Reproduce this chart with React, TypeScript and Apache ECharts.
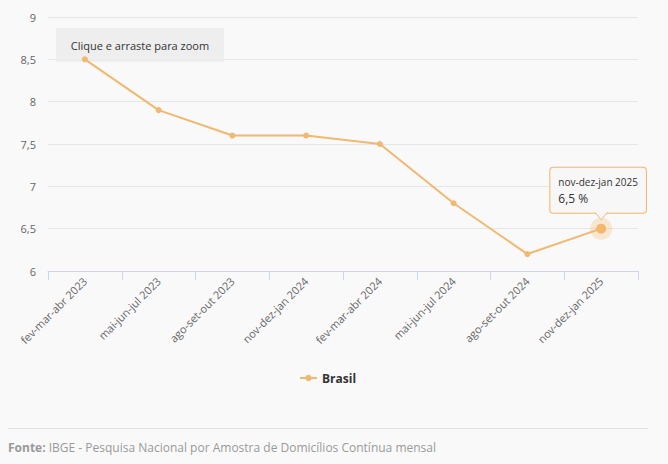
import React, { useEffect, useRef } from "react";
import * as echarts from "echarts";

const categories = [
  "fev-mar-abr 2023",
  "mai-jun-jul 2023",
  "ago-set-out 2023",
  "nov-dez-jan 2024",
  "fev-mar-abr 2024",
  "mai-jun-jul 2024",
  "ago-set-out 2024",
  "nov-dez-jan 2025",
];
const brasil = [8.5, 7.9, 7.6, 7.6, 7.5, 6.8, 6.2, 6.5];
const seriesName = "Brasil";
const unit = "%";
const zoomHint = "Clique e arraste para zoom";
const sourceLabel = "Fonte:";
const sourceText = " IBGE - Pesquisa Nacional por Amostra de Domicílios Contínua mensal";

const LINE = "#f2b86f";
const FONT = "'Open Sans', 'Noto Sans', sans-serif";
const fmt = (v: number) => String(v).replace(".", ",");

export default function App() {
  const ref = useRef<HTMLDivElement>(null);
  useEffect(() => {
    if (!ref.current) return;
    const chart = echarts.init(ref.current, null, { renderer: "svg" });
    const last = brasil.length - 1;
    const data = brasil.map((v, i) =>
      i === last
        ? {
            value: v,
            symbolSize: 10,
            label: {
              show: true,
              position: "top",
              distance: 11,
              formatter: `{a|${categories[i]}}\n{b|${fmt(v)} ${unit}}`,
              backgroundColor: "rgba(247,247,247,0.95)",
              borderColor: LINE,
              borderWidth: 1,
              borderRadius: 3,
              padding: [6, 8, 6, 8],
              align: "center",
              offset: [-3, 0],
              rich: {
                a: { fontSize: 10, color: "#333", fontFamily: FONT, lineHeight: 16, align: "left" },
                b: { fontSize: 12, color: "#333", fontFamily: FONT, lineHeight: 17, align: "left" },
              },
            },
          }
        : v
    );
    const baseGraphics: any[] = [
      {
        id: "hintRect",
        type: "rect",
        shape: { x: 56, y: 28, width: 168, height: 34 },
        style: { fill: "rgba(236,236,236,0.9)" },
        z: 1,
      },
      {
        id: "hintText",
        type: "text",
        x: 140,
        y: 45,
        style: {
          text: zoomHint,
          fill: "#333",
          fontSize: 11,
          fontFamily: FONT,
          align: "center",
          verticalAlign: "middle",
        },
        z: 1,
      },
      {
        id: "sep",
        type: "line",
        shape: { x1: 8, y1: 428.5, x2: 648, y2: 428.5 },
        style: { stroke: "#e0e0e0", lineWidth: 1 },
      },
      {
        id: "source",
        type: "text",
        x: 8,
        y: 447,
        style: {
          text: `{b|${sourceLabel}}{n|${sourceText}}`,
          verticalAlign: "middle",
          rich: {
            b: { fontWeight: "bold", fill: "#999", fontSize: 12, fontFamily: FONT },
            n: { fill: "#999", fontSize: 12, fontFamily: FONT },
          },
        },
      },
    ];
    chart.setOption({
      animation: false,
      backgroundColor: "#f9f9f9",
      textStyle: { fontFamily: FONT },
      grid: { left: 48, right: 30, top: 17, bottom: 193, containLabel: false },
      legend: {
        data: [seriesName],
        bottom: 80,
        left: 299,
        padding: 0,
        itemWidth: 17,
        itemHeight: 8,
        itemGap: 4,
        textStyle: { fontWeight: "bold", color: "#333", fontSize: 12, fontFamily: FONT },
      },
      xAxis: {
        type: "category",
        data: categories,
        boundaryGap: true,
        axisLine: { lineStyle: { color: "#ccd6eb" } },
        axisTick: { show: true, length: 9, lineStyle: { color: "#ccd6eb" } },
        axisLabel: { rotate: 45, color: "#666", fontSize: 11, margin: 8, interval: 0, fontFamily: FONT },
      },
      yAxis: {
        type: "value",
        min: 6,
        max: 9,
        interval: 0.5,
        axisLine: { show: false },
        axisTick: { show: false },
        splitLine: { lineStyle: { color: "#e6e6e6" } },
        axisLabel: { color: "#666", fontSize: 11, margin: 12, formatter: (v: number) => fmt(v), fontFamily: FONT },
      },
      series: [
        {
          name: seriesName,
          type: "line",
          data,
          color: LINE,
          symbol: "circle",
          symbolSize: 6,
          lineStyle: { width: 2, color: LINE },
          itemStyle: { color: LINE },
          markPoint: {
            symbol: "circle",
            symbolSize: 22,
            silent: true,
            itemStyle: { color: "rgba(242,184,111,0.3)" },
            label: { show: false },
            data: [{ coord: [last, brasil[last]] }],
          },
          z: 3,
        },
      ],
      graphic: baseGraphics,
    });
    const p = chart.convertToPixel({ seriesIndex: 0 }, [last, brasil[last]]) as number[];
    if (p) {
      const tipY = p[1] - 9;
      const baseY = tipY - 7;
      chart.setOption({
        graphic: [
          ...baseGraphics,
          {
            id: "arrowFill",
            type: "polygon",
            shape: { points: [[p[0] - 6, baseY - 1], [p[0] + 6, baseY - 1], [p[0], tipY]] },
            style: { fill: "#f7f7f7" },
            z: 100,
          },
          {
            id: "arrowLine",
            type: "polyline",
            shape: { points: [[p[0] - 6, baseY], [p[0], tipY], [p[0] + 6, baseY]] },
            style: { stroke: LINE, fill: "none", lineWidth: 1 },
            z: 100,
          },
        ],
      });
    }
    return () => chart.dispose();
  }, []);
  return (
    <div
      ref={ref}
      style={{ position: "absolute", left: 0, top: 0, width: 668, height: 464 }}
    />
  );
}
